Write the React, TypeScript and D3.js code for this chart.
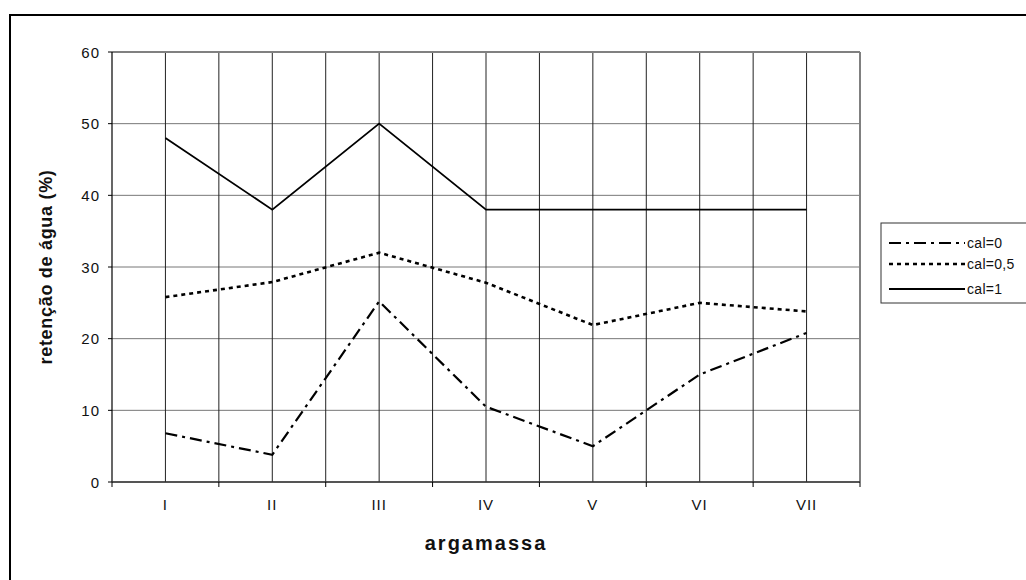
import React from "react";
import * as d3 from "d3";

const categories = ["I", "II", "III", "IV", "V", "VI", "VII"];
const cal0 = [6.8, 3.8, 25.2, 10.5, 5, 15, 20.8];
const cal05 = [25.8, 27.9, 32, 27.8, 21.9, 25, 23.8];
const cal1 = [48, 38, 50, 38, 38, 38, 38];
const yTicks = [0, 10, 20, 30, 40, 50, 60];

const seriesNames = ["cal=0", "cal=0,5", "cal=1"];
const series = [cal0, cal05, cal1];
const dashes = ["12,5,3,5", "4,4", null];
const widths = [2.2, 2.6, 1.8];

const FONT = "'Liberation Sans', Arial, sans-serif";

export default function App() {
  const left = 112,
    right = 860,
    top = 52,
    bottom = 482;

  const x = d3.scaleBand().domain(categories).range([left, right]).padding(0);
  const y = d3.scaleLinear().domain([0, 60]).range([bottom, top]);
  const cx = (c: string) => (x(c) as number) + x.bandwidth() / 2;

  const line = d3
    .line<number>()
    .x((_, i) => cx(categories[i]))
    .y((d) => y(d));

  const boundaries = categories.map((c) => x(c) as number).concat([right]);

  return (
    <svg
      width={1026}
      height={580}
      style={{ position: "absolute", left: 0, top: 0, background: "#fff" }}
      fontFamily={FONT}
    >
      <rect x={0} y={0} width={1026} height={580} fill="#fff" />
      {/* outer chart frame */}
      <rect x={10} y={15} width={1040} height={600} fill="none" stroke="#000" strokeWidth={2} />

      {/* horizontal grid */}
      {yTicks.map((t) => (
        <line key={"h" + t} x1={left} x2={right} y1={y(t)} y2={y(t)} stroke="#777" strokeWidth={1} />
      ))}
      {/* vertical grid: boundaries and centers */}
      {boundaries.slice(1, -1).map((b, i) => (
        <line key={"vb" + i} x1={b} x2={b} y1={top} y2={bottom} stroke="#222" strokeWidth={1} />
      ))}
      {categories.map((c) => (
        <line key={"vc" + c} x1={cx(c)} x2={cx(c)} y1={top} y2={bottom} stroke="#222" strokeWidth={1} />
      ))}
      {/* plot border top/right */}
      <line x1={left} x2={right} y1={top} y2={top} stroke="#808080" strokeWidth={2} />
      <line x1={right} x2={right} y1={top} y2={bottom} stroke="#808080" strokeWidth={2} />

      {/* axes */}
      <line x1={left} x2={left} y1={top} y2={bottom} stroke="#000" strokeWidth={1.2} />
      <line x1={left} x2={right} y1={bottom} y2={bottom} stroke="#333" strokeWidth={1.5} />
      {yTicks.map((t) => (
        <g key={"yt" + t}>
          <line x1={left - 4} x2={left} y1={y(t)} y2={y(t)} stroke="#000" />
          <text
            x={left - 12}
            y={y(t) + 5.5}
            textAnchor="end"
            fontSize={15}
            letterSpacing={1}
            fill="#111"
          >
            {t}
          </text>
        </g>
      ))}
      {boundaries.map((b, i) => (
        <line key={"xt" + i} x1={b} x2={b} y1={bottom} y2={bottom + 5} stroke="#000" />
      ))}
      {categories.map((c) => (
        <text
          key={"xl" + c}
          x={cx(c)}
          y={bottom + 28}
          textAnchor="middle"
          fontSize={15}
          letterSpacing={1}
          fill="#111"
        >
          {c}
        </text>
      ))}

      {/* series */}
      {series.map((s, i) => (
        <path
          key={seriesNames[i]}
          d={line(s) as string}
          fill="none"
          stroke="#000"
          strokeWidth={widths[i]}
          strokeDasharray={dashes[i] ?? undefined}
        />
      ))}

      {/* axis titles */}
      <text
        transform={`translate(52,${(top + bottom) / 2}) rotate(-90)`}
        textAnchor="middle"
        fontSize={18}
        fontWeight="bold"
        letterSpacing={0.7}
        fill="#111"
      >
        retenção de água (%)
      </text>
      <text
        x={(left + right) / 2}
        y={550}
        textAnchor="middle"
        fontSize={20}
        fontWeight="bold"
        letterSpacing={2}
        fill="#111"
      >
        argamassa
      </text>

      {/* legend */}
      <rect x={881} y={223} width={160} height={80} fill="#fff" stroke="#333" strokeWidth={1} />
      {seriesNames.map((n, i) => {
        const ly = [243, 264, 289][i];
        return (
          <g key={"lg" + n}>
            <line
              x1={889}
              x2={965}
              y1={ly}
              y2={ly}
              stroke="#000"
              strokeWidth={widths[i]}
              strokeDasharray={dashes[i] ?? undefined}
            />
            <text x={967} y={ly + 5} fontSize={14} letterSpacing={0.3} fill="#111">
              {n}
            </text>
          </g>
        );
      })}
    </svg>
  );
}
